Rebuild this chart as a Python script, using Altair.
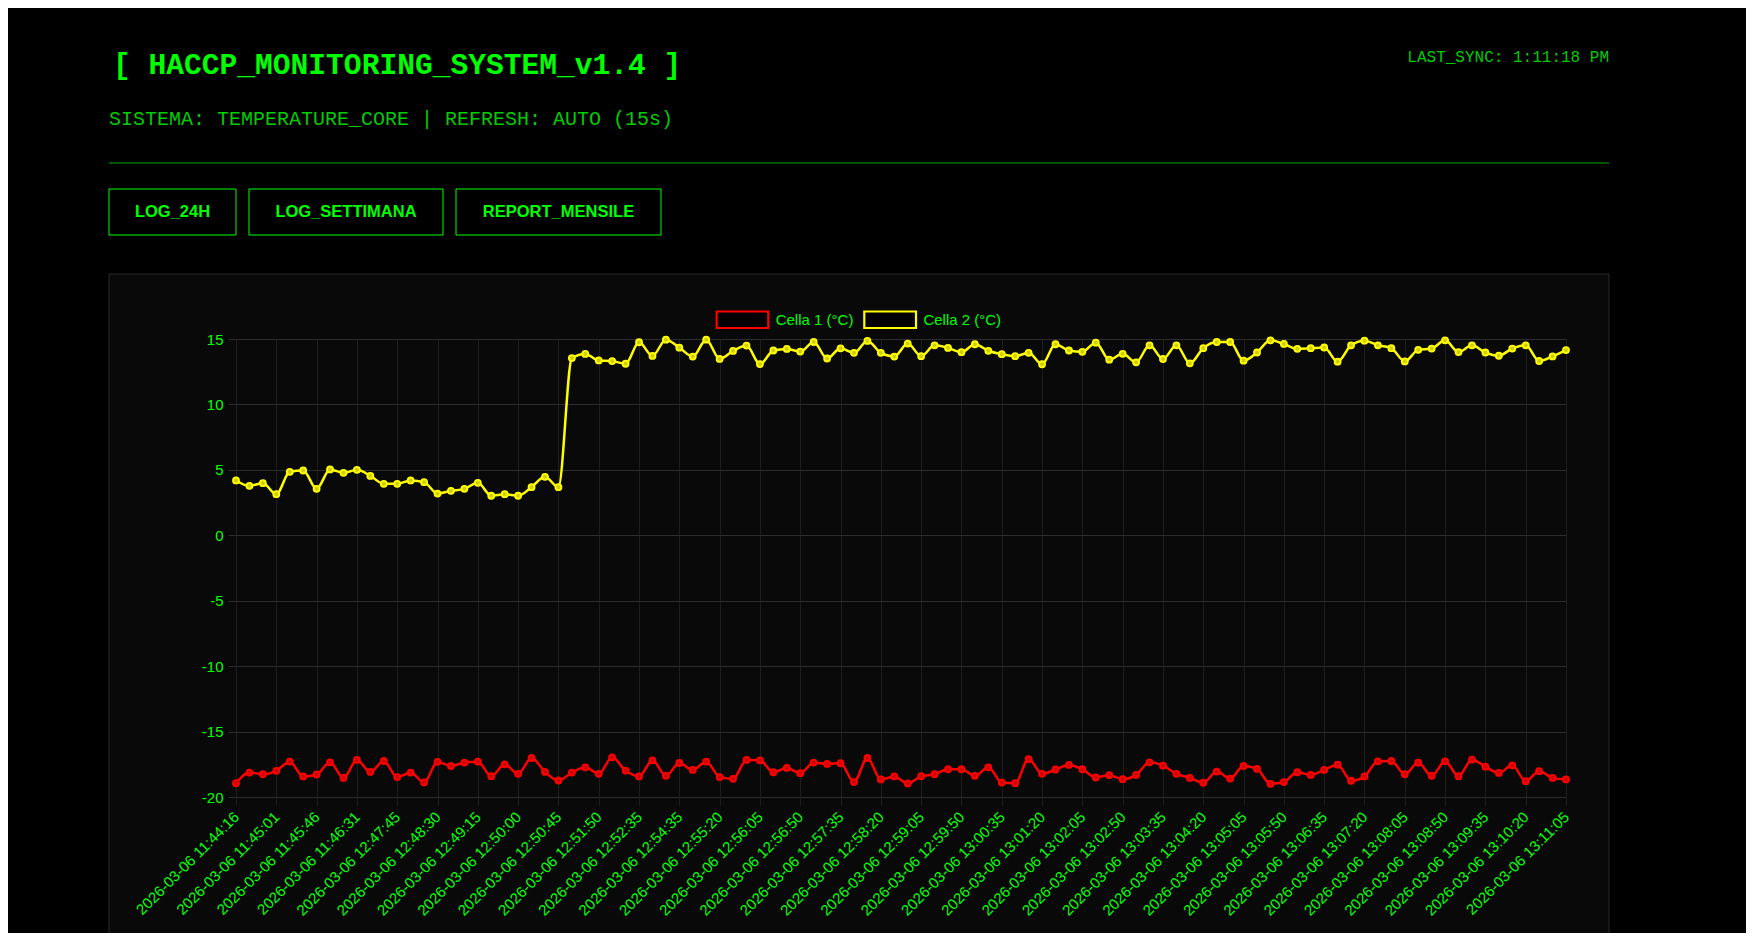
import altair as alt
import pandas as pd

# ---------------- data ----------------
series_names = ["Cella 1 (°C)", "Cella 2 (°C)"]
series_colors = ["#ff0000", "#ffff00"]
point_fills = ["#d00000", "#d0d000"]

cella1 = [-18.94, -18.13, -18.26, -18.00, -17.30, -18.43, -18.28, -17.35, -18.54, -17.17,
          -18.08, -17.25, -18.48, -18.13, -18.89, -17.32, -17.63, -17.37, -17.30, -18.41,
          -17.50, -18.23, -17.02, -18.08, -18.74, -18.13, -17.73, -18.23, -16.97, -17.98,
          -18.43, -17.20, -18.38, -17.40, -17.93, -17.30, -18.48, -18.61, -17.17, -17.20,
          -18.11, -17.78, -18.18, -17.37, -17.47, -17.42, -18.86, -17.02, -18.66, -18.43,
          -18.96, -18.41, -18.26, -17.88, -17.88, -18.38, -17.73, -18.90, -18.94, -17.10,
          -18.23, -17.90, -17.55, -17.88, -18.51, -18.33, -18.64, -18.31, -17.35, -17.60,
          -18.23, -18.54, -18.91, -18.06, -18.59, -17.63, -17.85, -18.99, -18.86, -18.11,
          -18.31, -17.93, -17.53, -18.76, -18.43, -17.27, -17.25, -18.26, -17.37, -18.38,
          -17.27, -18.41, -17.15, -17.68, -18.16, -17.58, -18.79, -18.03, -18.54, -18.66]

cella2 = [4.19, 3.78, 3.98, 3.14, 4.85, 4.95, 3.55, 5.03, 4.77, 5.00,
          4.54, 3.93, 3.93, 4.19, 4.06, 3.19, 3.40, 3.55, 4.01, 3.02,
          3.14, 3.02, 3.68, 4.47, 3.68, 13.54, 13.86, 13.36, 13.31, 13.11,
          14.75, 13.71, 14.95, 14.34, 13.66, 14.95, 13.48, 14.09, 14.50, 13.08,
          14.12, 14.24, 14.04, 14.77, 13.51, 14.29, 13.94, 14.85, 13.94, 13.66,
          14.65, 13.69, 14.52, 14.32, 13.99, 14.60, 14.10, 13.84, 13.69, 13.94,
          13.07, 14.60, 14.12, 14.02, 14.72, 13.42, 13.87, 13.22, 14.52, 13.47,
          14.52, 13.14, 14.30, 14.77, 14.77, 13.34, 13.97, 14.90, 14.62, 14.25,
          14.30, 14.35, 13.27, 14.52, 14.87, 14.52, 14.30, 13.29, 14.17, 14.27,
          14.90, 14.00, 14.52, 13.97, 13.72, 14.27, 14.52, 13.32, 13.67, 14.15]

tick_labels = [
    "2026-03-06 11:44:16", "2026-03-06 11:45:01", "2026-03-06 11:45:46", "2026-03-06 11:46:31",
    "2026-03-06 12:47:45", "2026-03-06 12:48:30", "2026-03-06 12:49:15", "2026-03-06 12:50:00",
    "2026-03-06 12:50:45", "2026-03-06 12:51:50", "2026-03-06 12:52:35", "2026-03-06 12:54:35",
    "2026-03-06 12:55:20", "2026-03-06 12:56:05", "2026-03-06 12:56:50", "2026-03-06 12:57:35",
    "2026-03-06 12:58:20", "2026-03-06 12:59:05", "2026-03-06 12:59:50", "2026-03-06 13:00:35",
    "2026-03-06 13:01:20", "2026-03-06 13:02:05", "2026-03-06 13:02:50", "2026-03-06 13:03:35",
    "2026-03-06 13:04:20", "2026-03-06 13:05:05", "2026-03-06 13:05:50", "2026-03-06 13:06:35",
    "2026-03-06 13:07:20", "2026-03-06 13:08:05", "2026-03-06 13:08:50", "2026-03-06 13:09:35",
    "2026-03-06 13:10:20", "2026-03-06 13:11:05",
]
y_ticks = [-20, -15, -10, -5, 0, 5, 10, 15]

title_text = "[ HACCP_MONITORING_SYSTEM_v1.4 ]"
subtitle_text = "SISTEMA: TEMPERATURE_CORE | REFRESH: AUTO (15s)"
sync_text = "LAST_SYNC: 1:11:18 PM"
buttons = ["LOG_24H", "LOG_SETTIMANA", "REPORT_MENSILE"]

# ---------------- table ----------------
n = len(cella2)
rows = []
for name, vals in zip(series_names, [cella1, cella2]):
    for i, v in enumerate(vals):
        rows.append({"idx": i, "series": name, "value": v})
df = pd.DataFrame(rows)

GREEN = "#00ff00"
GREEN2 = "#00cc00"
MONO = "Liberation Mono"
SANS = "Liberation Sans"

tick_vals = list(range(0, n, 3))
label_expr = "[" + ",".join('"%s"' % t for t in tick_labels) + "][round(datum.value/3)]"

W, H = 1330, 458

def deco():
    return alt.Chart(alt.Data(values=[{}]))

# container background (translucent white so the grid under it stays visible)
container = deco().mark_rect(fill="#ffffff", fillOpacity=0.035, stroke="#2a2a2a",
                              strokeOpacity=1, strokeWidth=1).encode(
    x=alt.value(-127), x2=alt.value(1373), y=alt.value(-65), y2=alt.value(H + 140))

title = deco().mark_text(font=MONO, fontSize=29.6, fontWeight="bold", color=GREEN,
                         align="left", baseline="alphabetic").encode(
    x=alt.value(-123), y=alt.value(-265), text=alt.value(title_text))
subtitle = deco().mark_text(font=MONO, fontSize=20, color=GREEN2,
                            align="left", baseline="alphabetic").encode(
    x=alt.value(-127), y=alt.value(-214), text=alt.value(subtitle_text))
sync = deco().mark_text(font=MONO, fontSize=16, color=GREEN2,
                        align="right", baseline="alphabetic").encode(
    x=alt.value(1373), y=alt.value(-277), text=alt.value(sync_text))
hr = deco().mark_rule(color="#00aa00", strokeWidth=1).encode(
    x=alt.value(-127), x2=alt.value(1373), y=alt.value(-176))

btn_layers = []
btn_boxes = [(-127, 0), (13, 207), (220, 425)]
for label, (bx0, bx1) in zip(buttons, btn_boxes):
    btn_layers.append(deco().mark_rect(fill="#000000", stroke=GREEN, strokeWidth=1).encode(
        x=alt.value(bx0), x2=alt.value(bx1), y=alt.value(-150), y2=alt.value(-104)))
    btn_layers.append(deco().mark_text(font=SANS, fontSize=16.5, fontWeight="bold", color=GREEN,
                                       align="center", baseline="middle").encode(
        x=alt.value((bx0 + bx1) / 2), y=alt.value(-127), text=alt.value(label)))

# legend (Chart.js style boxes), built from the series names / colours
legend_layers = []
legend_boxes = [(480.7, 532.3), (628.3, 680.0)]
for name, col, (lx0, lx1) in zip(series_names, series_colors, legend_boxes):
    legend_layers.append(deco().mark_rect(fill="#000000", stroke=col, strokeWidth=2.2).encode(
        x=alt.value(lx0), x2=alt.value(lx1), y=alt.value(-27.5), y2=alt.value(-11)))
    legend_layers.append(deco().mark_text(font=SANS, fontSize=15, color=GREEN,
                                          align="left", baseline="middle").encode(
        x=alt.value(lx1 + 7.4), y=alt.value(-19.5), text=alt.value(name)))

base = alt.Chart(df)
x_enc = alt.X("idx:Q", scale=alt.Scale(domain=[0, n - 1], nice=False, zero=False),
              axis=alt.Axis(values=tick_vals, labelExpr=label_expr, title=None,
                            labelAngle=-45, labelAlign="right", labelBaseline="middle",
                            labelPadding=9, labelColor=GREEN, labelFont=SANS, labelFontSize=15,
                            grid=True, gridColor="#151515", tickColor="#151515", tickSize=8,
                            domain=False, labelOverlap=False, labelFlush=False, labelBound=False))
y_enc = alt.Y("value:Q", scale=alt.Scale(domain=[-20, 15], nice=False, zero=False),
              axis=alt.Axis(values=y_ticks, labelExpr="'' + datum.value", title=None,
                            labelColor=GREEN, labelFont=SANS, labelFontSize=15, labelPadding=5,
                            grid=True, gridColor="#262626", tickColor="#262626", tickSize=8,
                            domain=False))

lines = base.mark_line(strokeWidth=2.5, interpolate="monotone").encode(
    x=x_enc, y=y_enc,
    color=alt.Color("series:N", scale=alt.Scale(domain=series_names, range=series_colors),
                    legend=None),
)
points = base.mark_point(shape="circle", size=36, strokeWidth=1.8, opacity=1, fillOpacity=1).encode(
    x="idx:Q", y="value:Q",
    stroke=alt.Stroke("series:N", scale=alt.Scale(domain=series_names, range=series_colors),
                      legend=None),
    fill=alt.Fill("series:N", scale=alt.Scale(domain=series_names, range=point_fills),
                  legend=None),
)

chart = alt.layer(container, title, subtitle, sync, hr, *btn_layers, *legend_layers,
                  lines, points).properties(
    width=W, height=H,
    padding={"left": 228, "top": 331, "right": 180, "bottom": 136},
    autosize=alt.AutoSizeParams(type="none"),
    background="#000000",
).configure_view(stroke=None)

chart.save("out.html", embed_options={"renderer": "svg", "actions": False})
